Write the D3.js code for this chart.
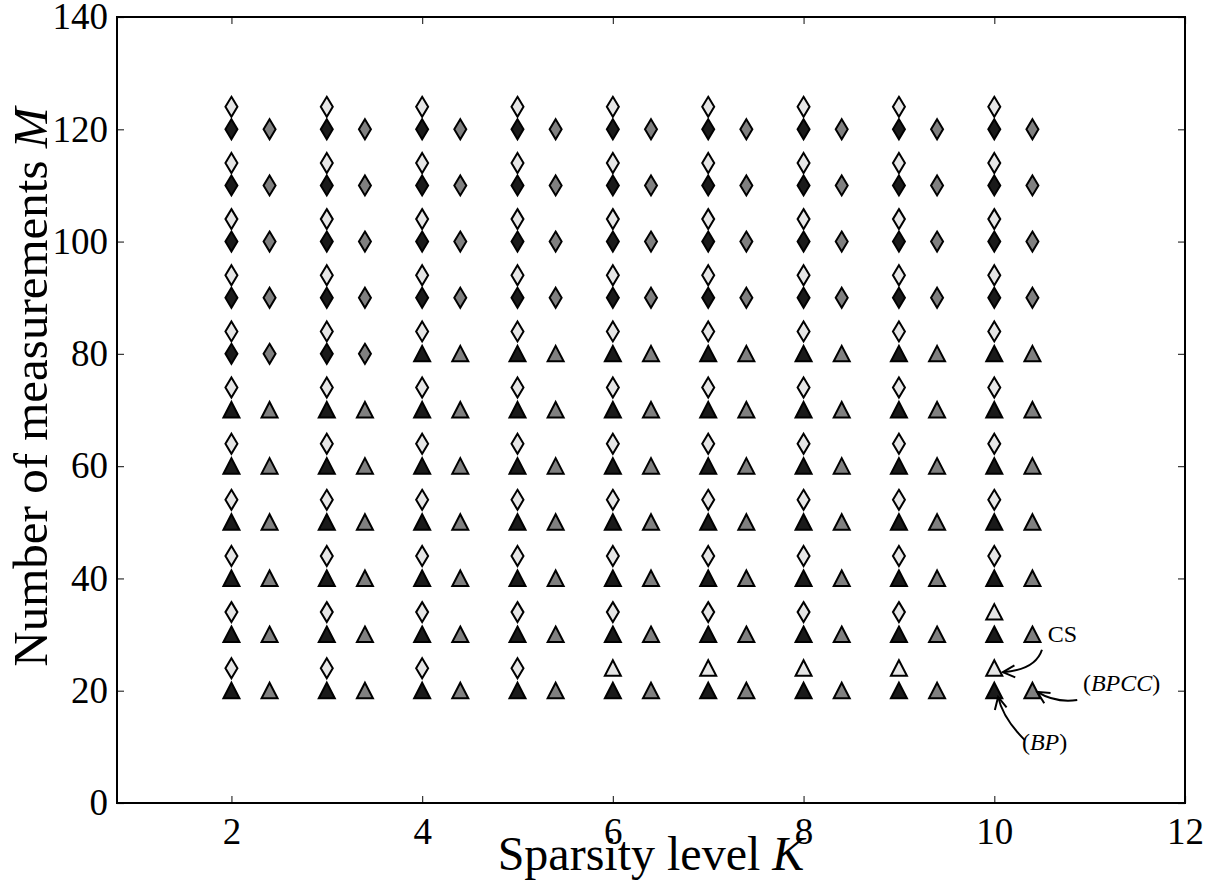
<!DOCTYPE html>
<html>
<head>
<meta charset="utf-8">
<script src="https://cdn.jsdelivr.net/npm/d3@7"></script>
<style>
  body { margin: 0; background: #fff; }
  text { font-family: "Liberation Serif", "DejaVu Serif", serif; fill: #000; }
</style>
</head>
<body>
<div id="chart"></div>
<script>
// data
var sparsity = [2, 3, 4, 5, 6, 7, 8, 9, 10];
var measurements = [20, 30, 40, 50, 60, 70, 80, 90, 100, 110, 120];
// smallest M drawn as a diamond, per K (triangle below it)
var bpDiamondFrom   = [80, 80, 90, 90, 90, 90, 90, 90, 90];
var bpccDiamondFrom = [80, 80, 90, 90, 90, 90, 90, 90, 90];
var csDiamondFrom   = [20, 20, 20, 20, 30, 30, 30, 30, 40];
var xTicks = [2, 4, 6, 8, 10, 12];
var yTicks = [0, 20, 40, 60, 80, 100, 120, 140];

var svgWidth = 1211;
var svgHeight = 886;
var margin = { top: 17, right: 26, bottom: 83, left: 117 };
var width = svgWidth - margin.left - margin.right;
var height = svgHeight - margin.top - margin.bottom;

var svg = d3.select("#chart").append("svg")
  .attr("width", svgWidth)
  .attr("height", svgHeight);

svg.append("defs").append("marker")
  .attr("id", "arrow")
  .attr("viewBox", "-13 -8 15 16")
  .attr("markerWidth", 15).attr("markerHeight", 16)
  .attr("markerUnits", "userSpaceOnUse")
  .attr("refX", 0).attr("refY", 0)
  .attr("orient", "auto")
  .append("path")
  .attr("d", "M-12,-6 L0,0 L-12,6")
  .attr("fill", "none").attr("stroke", "#000").attr("stroke-width", 2);

var chartGroup = svg.append("g")
  .attr("transform", `translate(${margin.left}, ${margin.top})`);

var xScale = d3.scaleLinear().domain([0.8, 12]).range([0, width]);
var yScale = d3.scaleLinear().domain([0, 140]).range([height, 0]);

// build the points of the three series
var points = [];
sparsity.forEach(function(k, i) {
  measurements.forEach(function(m) {
    points.push({ series: "BP", x: k, y: m, shape: m >= bpDiamondFrom[i] ? "d" : "t", fill: "#1a1a1a" });
    points.push({ series: "CS", x: k, y: m + 4, shape: m >= csDiamondFrom[i] ? "d" : "t", fill: "#e6e6e6" });
    points.push({ series: "BPCC", x: k + 0.4, y: m, shape: m >= bpccDiamondFrom[i] ? "d" : "t", fill: "#808080" });
  });
});

var diamondPath = "M0,-10 L6,0 L0,10 L-6,0 Z";
var trianglePath = "M0,-8 L8,7.5 L-8,7.5 Z";

chartGroup.selectAll("path.pt")
  .data(points)
  .enter()
  .append("path")
  .attr("class", "pt")
  .attr("d", d => d.shape == "d" ? diamondPath : trianglePath)
  .attr("transform", d => `translate(${xScale(d.x)}, ${yScale(d.y)})`)
  .attr("fill", d => d.fill)
  .attr("stroke", "#000")
  .attr("stroke-width", 2)
  .attr("stroke-linejoin", "miter");

// axes: ticks inside on all four sides
var bottomAxis = d3.axisBottom(xScale).tickValues(xTicks).tickSizeInner(-7).tickSizeOuter(0).tickPadding(15);
var leftAxis = d3.axisLeft(yScale).tickValues(yTicks).tickSizeInner(-7).tickSizeOuter(0).tickPadding(9);
var topAxis = d3.axisTop(xScale).tickValues(xTicks).tickSizeInner(-7).tickSizeOuter(0).tickFormat("");
var rightAxis = d3.axisRight(yScale).tickValues(yTicks).tickSizeInner(-7).tickSizeOuter(0).tickFormat("");

function styleAxis(g) {
  g.select(".domain").remove();
  g.selectAll(".tick line").attr("stroke", "#333").attr("stroke-width", 1.2);
  g.selectAll(".tick text").style("font-family", "Liberation Serif, serif").style("font-size", "37px").attr("fill", "#000");
}

chartGroup.append("g").attr("transform", `translate(0, ${height})`).call(bottomAxis).call(styleAxis);
chartGroup.append("g").call(leftAxis).call(styleAxis);
chartGroup.append("g").call(topAxis).call(styleAxis);
chartGroup.append("g").attr("transform", `translate(${width}, 0)`).call(rightAxis).call(styleAxis);

chartGroup.append("rect")
  .attr("width", width).attr("height", height)
  .attr("fill", "none").attr("stroke", "#000").attr("stroke-width", 2);

// axis labels
chartGroup.append("text")
  .attr("x", width / 2)
  .attr("y", height + 67)
  .attr("text-anchor", "middle")
  .style("font-size", "48px")
  .html('Sparsity level <tspan font-style="italic">K</tspan>');

chartGroup.append("text")
  .attr("transform", `translate(${-70}, ${370}) rotate(-90)`)
  .attr("text-anchor", "middle")
  .style("font-size", "49px")
  .html('Number of measurements <tspan font-style="italic">M</tspan>');

// annotations: text spot, arrow start, bend point, arrow tip (data units)
var notes = [
  { html: 'CS', tx: 10.56, ty: 30.1, sx: 10.5, sy: 27.3, cx: 10.43, cy: 23.7, ex: 10.09, ey: 23.3 },
  { html: '(<tspan font-style="italic">BPCC</tspan>)', tx: 10.93, ty: 21.5, sx: 10.87, sy: 18.35, cx: 10.64, cy: 17.8, ex: 10.45, ey: 19.8 },
  { html: '(<tspan font-style="italic">BP</tspan>)', tx: 10.29, ty: 10.9, sx: 10.32, sy: 11.2, cx: 10.09, cy: 15.1, ex: 10.04, ey: 18.9 }
];

notes.forEach(function(n) {
  chartGroup.append("text")
    .attr("x", xScale(n.tx))
    .attr("y", yScale(n.ty))
    .attr("dy", "0.35em")
    .style("font-size", "24px")
    .html(n.html);

  chartGroup.append("path")
    .attr("d", `M${xScale(n.sx)},${yScale(n.sy)} Q${xScale(n.cx)},${yScale(n.cy)} ${xScale(n.ex)},${yScale(n.ey)}`)
    .attr("fill", "none")
    .attr("stroke", "#000")
    .attr("stroke-width", 2)
    .attr("marker-end", "url(#arrow)");
});
</script>
</body>
</html>
